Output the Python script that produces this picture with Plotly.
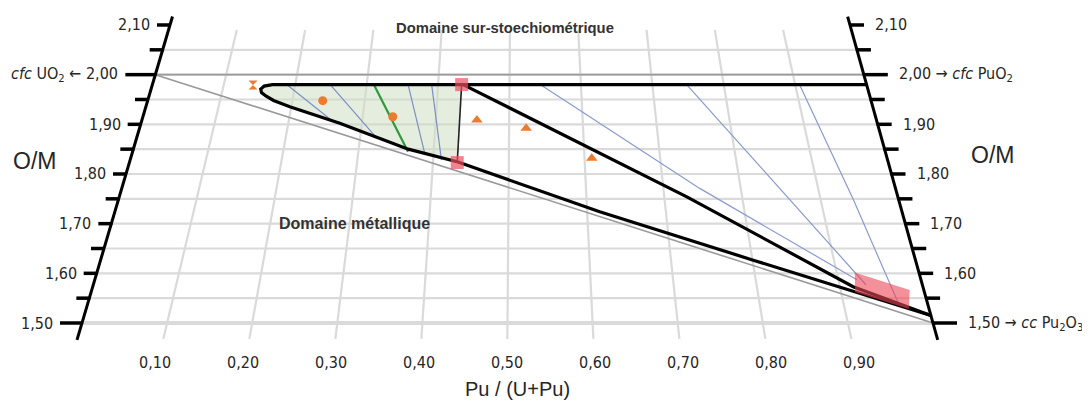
import plotly.graph_objects as go

# ---------------- data (x = Pu/(U+Pu), y = O/M) ----------------
om_major = [1.50, 1.60, 1.70, 1.80, 1.90, 2.00, 2.10]
om_minor = [1.55, 1.65, 1.75, 1.85, 1.95, 2.05]
om_grid = [1.50, 1.55, 1.60, 1.65, 1.70, 1.75, 1.80, 1.85, 1.90, 1.95, 2.00, 2.05]
pu_ticks = [0.10, 0.20, 0.30, 0.40, 0.50, 0.60, 0.70, 0.80, 0.90]
bottom_labels = ["0,10", "0,20", "0,30", "0,40", "0,50", "0,60", "0,70", "0,80", "0,90"]
left_labels = ["1,50", "1,60", "1,70", "1,80", "1,90",
               "<i>cfc</i> UO<sub>2</sub> \u2190 2,00", "2,10"]
right_labels = ["1,50 \u2192 <i>cc</i> Pu<sub>2</sub>O<sub>3</sub>", "1,60", "1,70", "1,80", "1,90",
                "2,00 \u2192 <i>cfc</i> PuO<sub>2</sub>", "2,10"]

# two-phase lens (filled part)
lens_pu = [0.168, 0.433, 0.433, 0.366, 0.270, 0.198, 0.174, 0.162, 0.155, 0.153, 0.157, 0.168]
lens_om = [1.980, 1.980, 1.824, 1.850, 1.902, 1.9355, 1.948, 1.957, 1.964, 1.971, 1.977, 1.980]

# main black boundary (upper line + lens + lower line)
bound_pu = [1.0, 0.168, 0.157, 0.153, 0.155, 0.162, 0.174, 0.198, 0.270, 0.366, 0.433, 0.570, 0.616, 0.800, 1.0]
bound_om = [1.98, 1.98, 1.977, 1.971, 1.964, 1.957, 1.948, 1.9355, 1.902, 1.850, 1.824, 1.751, 1.724, 1.627, 1.515]

# tie-triangle diagonal
diag_pu = [0.435, 0.729, 0.916, 1.0]
diag_om = [1.98, 1.754, 1.573, 1.515]

# vertical thin line between the red squares
vert_pu = [0.433, 0.432]
vert_om = [1.98, 1.824]

# thin gray reference lines
gray1_pu = [0.0, 1.0]
gray1_om = [2.00, 1.50]
gray2_pu = [0.0, 1.0]
gray2_om = [2.00, 2.00]

# tie lines (blue) in the lens
tie_lens = [
    ([0.188, 0.261], [1.98, 1.905]),
    ([0.249, 0.3225], [1.98, 1.872]),
    ([0.358, 0.389], [1.98, 1.838]),
    ([0.391, 0.411], [1.98, 1.828]),
]
green_pu = [0.310, 0.366]
green_om = [1.98, 1.845]

# tie lines (blue) on the right
tie_right = [
    ([0.543, 0.747, 0.9225], [1.98, 1.771, 1.587]),
    ([0.748, 0.861, 0.932], [1.98, 1.748, 1.577]),
    ([0.906, 0.942, 0.966], [1.98, 1.748, 1.533]),
]

# pink region near Pu2O3
box_pu = [0.922, 0.983, 0.976, 0.9167, 0.922]
box_om = [1.6017, 1.5664, 1.5282, 1.5624, 1.6017]

# experimental points
hour_pu = [0.141]
hour_om = [1.979]
circ_pu = [0.242, 0.341]
circ_om = [1.9476, 1.9153]
tri_pu = [0.456, 0.523, 0.6095]
tri_om = [1.9087, 1.892, 1.8316]
sq_pu = [0.433, 0.432]
sq_om = [1.98, 1.823]


# ---------------- oblique (keystone) projection of the diagram ----------------
def py(om):
    return 323 - (om - 1.5) * 496.7


def px(f, om):
    d = 323 - py(om)
    left = 82 + 0.2953 * d
    width = 851 - 0.5738 * d
    return left + f * width


def tr(fs, oms):
    return [px(f, o) for f, o in zip(fs, oms)], [py(o) for o in oms]


fig = go.Figure()


def add_line(fs, oms, color, width, dash=None):
    xs, ys = tr(fs, oms)
    fig.add_trace(go.Scatter(x=xs, y=ys, mode="lines",
                             line=dict(color=color, width=width, dash=dash),
                             hoverinfo="skip", showlegend=False))


# grid: horizontal
for om in om_grid:
    w = 4 if abs(om - 1.5) < 1e-9 else 2.2
    add_line([0.0, 1.0], [om, om], "#dadada", w)
# grid: oblique "vertical"
for f in pu_ticks:
    add_line([f, f], [2.09, 1.468], "#dadada", 2.2)

# lens fill
xs, ys = tr(lens_pu, lens_om)
fig.add_trace(go.Scatter(x=xs, y=ys, mode="lines", fill="toself", fillcolor="rgba(205,222,195,0.55)",
                         line=dict(width=0), hoverinfo="skip", showlegend=False))

# gray reference lines
add_line(gray2_pu, gray2_om, "#9a9a9a", 1.6)
add_line(gray1_pu, gray1_om, "#9a9a9a", 1.6)

# tie lines
for fs, oms in tie_lens:
    add_line(fs, oms, "#7d8ec8", 1.2)
for fs, oms in tie_right:
    add_line(fs, oms, "#8a9ad2", 1.2)
add_line(green_pu, green_om, "#2f9a3c", 2.2)

# black boundaries
add_line(vert_pu, vert_om, "#222222", 1.6)
add_line(bound_pu, bound_om, "#000000", 3.2)
add_line(diag_pu, diag_om, "#000000", 3.2)

# pink region
xs, ys = tr(box_pu, box_om)
fig.add_trace(go.Scatter(x=xs, y=ys, mode="lines", fill="toself", fillcolor="rgba(236,70,85,0.6)",
                         line=dict(width=0), hoverinfo="skip", showlegend=False))

# axes (left f=0, right f=1)
add_line([0.0, 0.0], [1.466, 2.117], "#000000", 3)
add_line([1.0, 1.0], [1.466, 2.117], "#000000", 3)


def tick_len_left(om):
    if abs(om - 2.0) < 1e-9:
        return 30
    if abs(om - 1.5) < 1e-9:
        return 22
    return 13


def tick_len_right(om):
    if abs(om - 2.0) < 1e-9 or abs(om - 1.5) < 1e-9:
        return 24
    return 14


tx, ty = [], []
for om in om_major + om_minor:
    x0 = px(0.0, om)
    tx += [x0 - tick_len_left(om), x0 + 1, None]
    ty += [py(om), py(om), None]
    x1 = px(1.0, om)
    tx += [x1 - 1, x1 + tick_len_right(om), None]
    ty += [py(om), py(om), None]
fig.add_trace(go.Scatter(x=tx, y=ty, mode="lines", line=dict(color="#000000", width=3.5),
                         hoverinfo="skip", showlegend=False))

# markers
orange = "#ec7a2f"
xs, ys = tr(hour_pu, hour_om)
fig.add_trace(go.Scatter(x=xs, y=ys, mode="markers", marker=dict(symbol="hourglass", size=9, color=orange),
                         hoverinfo="skip", showlegend=False))
xs, ys = tr(circ_pu, circ_om)
fig.add_trace(go.Scatter(x=xs, y=ys, mode="markers", marker=dict(symbol="circle", size=9, color=orange),
                         hoverinfo="skip", showlegend=False))
xs, ys = tr(tri_pu, tri_om)
fig.add_trace(go.Scatter(x=xs, y=ys, mode="markers", marker=dict(symbol="triangle-up", size=10, color=orange),
                         hoverinfo="skip", showlegend=False))
xs, ys = tr(sq_pu, sq_om)
fig.add_trace(go.Scatter(x=xs, y=ys, mode="markers",
                         marker=dict(symbol="square", size=13, color="rgba(236,80,95,0.7)"),
                         hoverinfo="skip", showlegend=False))

# ---------------- text ----------------
lab_font = dict(family="DejaVu Sans Condensed, Liberation Sans Narrow, Roboto, sans-serif",
                size=16, color="#262626")
ann = []
for om, lab in zip(om_major, left_labels):
    ann.append(dict(x=px(0.0, om) - tick_len_left(om) - 5, y=py(om), text=lab, xanchor="right",
                    yanchor="middle", showarrow=False, font=lab_font))
for om, lab in zip(om_major, right_labels):
    ann.append(dict(x=px(1.0, om) + tick_len_right(om) + 9, y=py(om), text=lab, xanchor="left",
                    yanchor="middle", showarrow=False, font=lab_font))
for f, lab in zip(pu_ticks, bottom_labels):
    ann.append(dict(x=px(f, 1.398), y=py(1.421), text=lab, xanchor="center", yanchor="middle",
                    showarrow=False, font=lab_font))

title_font = dict(family="Liberation Sans, Arial, sans-serif", size=20, color="#262626")
ann.append(dict(x=517, y=389, text="Pu / (U+Pu)", showarrow=False, xanchor="center", yanchor="middle",
                font=title_font))
om_font = dict(family="Liberation Sans, Arial, sans-serif", size=23, color="#262626")
ann.append(dict(x=34, y=161, text="O/M", showarrow=False, xanchor="center", yanchor="middle", font=om_font))
ann.append(dict(x=992, y=155, text="O/M", showarrow=False, xanchor="center", yanchor="middle", font=om_font))

dom_font = dict(family="Liberation Sans, Arial, sans-serif", size=14.8, color="#333333")
ann.append(dict(x=505, y=28, text="<b>Domaine sur-stoechiométrique</b>", showarrow=False,
                xanchor="center", yanchor="middle", font=dom_font))
ann.append(dict(x=354, y=223, text="<b>Domaine métallique</b>", showarrow=False,
                xanchor="center", yanchor="middle", font=dict(dom_font, size=16)))

# the page body adds an 8 px margin: shrink the figure and shift the visible window accordingly
OFF = 8
fig.update_layout(
    width=1090 - OFF, height=403 - OFF,
    margin=dict(l=0, r=0, t=0, b=0),
    paper_bgcolor="white", plot_bgcolor="white",
    xaxis=dict(range=[OFF, 1090], visible=False, fixedrange=True),
    yaxis=dict(range=[403, OFF], visible=False, fixedrange=True),
    annotations=ann,
)

fig.write_html("out.html")
